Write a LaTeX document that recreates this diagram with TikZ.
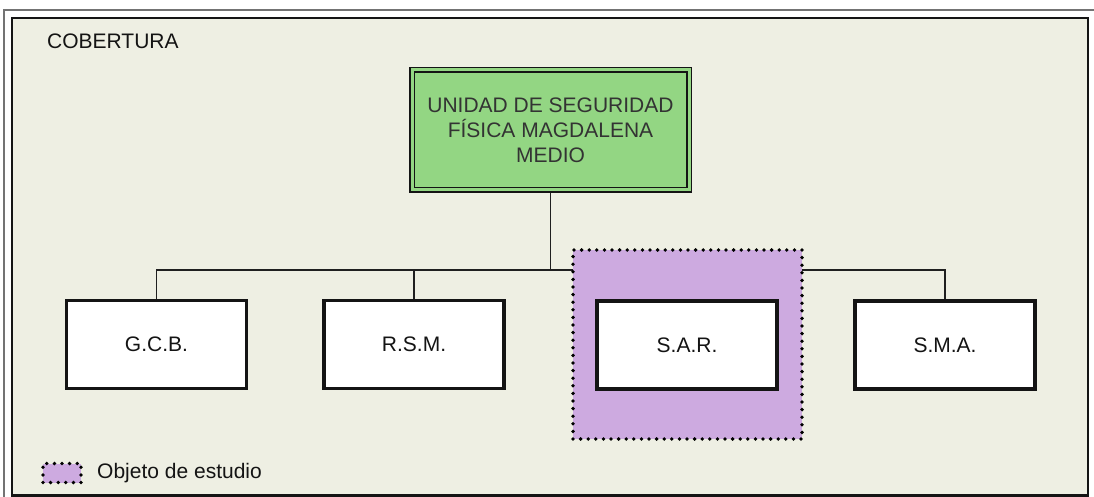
\documentclass[tikz,border=0pt]{standalone}
\usepackage{fontspec}
\setmainfont{Liberation Sans}
\usetikzlibrary{backgrounds}
\definecolor{bgc}{RGB}{238,239,227}
\definecolor{greenc}{RGB}{147,214,131}
\definecolor{purplec}{RGB}{205,170,224}
\definecolor{txtdark}{RGB}{51,51,51}
\begin{document}
\begin{tikzpicture}[x=1pt,y=-1pt,
  unitbox/.style={draw=black!92, line width=3.6pt, fill=white, minimum width=180pt, minimum height=88pt, inner sep=0pt, font=\fontsize{21}{25}\selectfont, text=black!92},
  headbox/.style={draw=black!92, double=greenc, double distance=3pt, line width=1.4pt, fill=greenc, minimum width=277pt, minimum height=120pt, inner sep=0pt, align=center, font=\fontsize{21}{25}\selectfont, text=txtdark},
  studybox/.style={fill=purplec, draw=black, line width=3.8pt, line cap=round, dash pattern=on 0pt off 7.6pt},
  conn/.style={draw=black!88, line width=1.8pt},
  plain/.style={font=\fontsize{21}{25}\selectfont, text=black!92, inner sep=0pt}]
\useasboundingbox (0,0) rectangle (1094,497);
\begin{pgfonlayer}{background}
\fill[white] (0,0) rectangle (1094,497);
\draw[black!55, line width=1.5pt] (4,497) -- (4,10) -- (1094,10);
\draw[fill=bgc, draw=black!92, line width=2.2pt] (12,18) rectangle (1088,495.5);
\end{pgfonlayer}

\node[plain, anchor=base west] (cob) at (47,49) {COBERTURA};

\node[headbox] (top) at (550.5,130) {UNIDAD DE SEGURIDAD\\FÍSICA MAGDALENA\\MEDIO};

\node[studybox, minimum width=229pt, minimum height=189pt, inner sep=0pt] (study) at (687.5,344.5) {};

\node[unitbox] (gcb) at (156.5,344.5) {G.C.B.};
\node[unitbox] (rsm) at (414,344.5) {R.S.M.};
\node[unitbox] (sar) at (687,345) {S.A.R.};
\node[unitbox] (sma) at (945,345) {S.M.A.};

\coordinate (bus) at (550.5,270);
\begin{pgfonlayer}{background}
\draw[conn] (top.south) -- (bus);
\draw[conn] (gcb.north) |- (bus);
\draw[conn] (rsm.north) |- (bus);
\draw[conn] (sar.north) |- (bus);
\draw[conn] (sma.north) |- (bus);
\end{pgfonlayer}

\node[studybox, minimum width=38pt, minimum height=19pt, inner sep=0pt] (legsw) at (62,473) {};
\node[plain, anchor=west] (legtxt) at (97,473) {Objeto de estudio};
\end{tikzpicture}
\end{document}
